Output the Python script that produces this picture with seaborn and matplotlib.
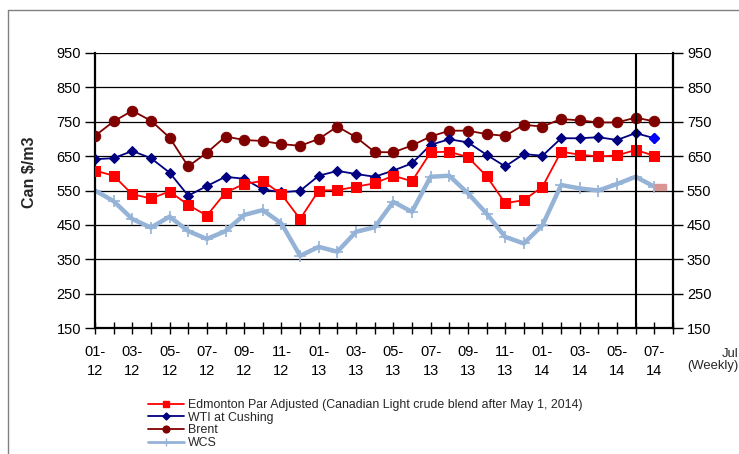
import pandas as pd
import matplotlib.pyplot as plt
import seaborn as sns
from matplotlib.lines import Line2D

# categorias (meses) e series
meses = ["01-12", "02-12", "03-12", "04-12", "05-12", "06-12", "07-12", "08-12",
         "09-12", "10-12", "11-12", "12-12", "01-13", "02-13", "03-13", "04-13",
         "05-13", "06-13", "07-13", "08-13", "09-13", "10-13", "11-13", "12-13",
         "01-14", "02-14", "03-14", "04-14", "05-14", "06-14", "07-14"]

edmonton = [608, 593, 539, 527, 547, 508, 477, 544, 569, 578, 539, 467, 550, 551,
            561, 571, 593, 577, 661, 663, 647, 592, 513, 522, 561, 663, 654, 649,
            652, 668, 651]
wti = [641, 644, 665, 644, 602, 535, 563, 590, 584, 553, 545, 549, 593, 607,
       598, 590, 608, 629, 683, 699, 690, 654, 620, 656, 651, 702, 702, 705,
       697, 717, 702]
brent = [709, 751, 782, 753, 704, 620, 660, 707, 697, 694, 685, 680, 700, 736,
         705, 662, 661, 681, 707, 724, 724, 714, 709, 741, 736, 758, 754, 748,
         748, 762, 751]
wcs = [550, 519, 467, 442, 474, 432, 409, 432, 479, 493, 454, 360, 386, 372,
       430, 443, 517, 488, 590, 593, 542, 483, 415, 396, 449, 566, 556, 550,
       569, 590, 561]

nomes = ["Edmonton Par Adjusted (Canadian Light crude blend after May 1, 2014)",
         "WTI at Cushing", "Brent", "WCS"]
inicio_semanal = "06-14"

df = pd.DataFrame({"mes": meses, "edmonton": edmonton, "wti": wti,
                   "brent": brent, "wcs": wcs})
df["pos"] = range(len(df))

sns.set_style("white")
plt.rcParams["font.family"] = ["Liberation Sans", "DejaVu Sans"]

fig, ax = plt.subplots(figsize=(7.39, 4.54), dpi=100)
fig.subplots_adjust(left=95/739, right=673/739, top=1-53/454, bottom=1-328/454)

# estilos das series
estilos = {
    "edmonton": dict(color="#FF0000", marker="s", markersize=7.5, linewidth=1.3, zorder=5),
    "wti": dict(color="#000080", marker="D", markersize=5.5, linewidth=1.3, zorder=4),
    "brent": dict(color="#800000", marker="o", markersize=7.5, linewidth=1.3, zorder=3),
    "wcs": dict(color="#95B3D7", marker="+", markersize=9, markeredgewidth=1.2,
                linewidth=3.2, zorder=2),
}

for col in ["wcs", "brent", "wti", "edmonton"]:
    sns.lineplot(data=df, x="pos", y=col, ax=ax, markeredgecolor=estilos[col]["color"],
                 **estilos[col])

# ultimo ponto (semanal) com cores diferentes
ult = df.iloc[-1:]
ax.plot(ult["pos"], ult["wti"], marker="D", color="#0000FF", markersize=5.5,
        linestyle="none", zorder=6)
ax.plot(ult["pos"], ult["wcs"], marker=[(0, -0.25), (1, -0.25), (1, 0.25), (0, 0.25)],
        color="#D99594", markersize=17, linestyle="none", zorder=6)

ax.axvline(meses.index(inicio_semanal), color="black", linewidth=1.5, zorder=7)

ax.set_xlim(0, len(meses))
ax.set_ylim(150, 950)
ax.set_yticks(range(150, 951, 100))
ax.yaxis.grid(True, color="black", linewidth=0.9)
ax.set_axisbelow(True)

ticks = list(range(len(meses) + 1))
rotulos = [m.replace("-", "-\n") if i % 2 == 0 else "" for i, m in enumerate(meses)] + [""]
ax.set_xticks(ticks)
ax.set_xticklabels(rotulos, linespacing=1.4)
ax.tick_params(axis="x", direction="inout", length=9, width=1, pad=8, labelsize=10.5,
               colors="black", bottom=True)
ax.tick_params(axis="y", direction="out", length=7, width=1, pad=3, labelsize=10.5,
               left=True, right=True, labelright=True, colors="black")

for lado in ["left", "right", "bottom"]:
    ax.spines[lado].set_color("black")
    ax.spines[lado].set_linewidth(1.6)
ax.spines["top"].set_visible(False)

ax.set_xlabel("")
ax.set_ylabel("")
fig.text(30/739, 1-172/454, "Can $/m3", rotation=90, ha="center", va="center",
         fontsize=11.5, fontweight="bold")
fig.text(738/739, 1-360/454, "Jul\n(Weekly)", ha="right", va="center", fontsize=9.4,
         multialignment="right", linespacing=1.0)

# legenda
handles = [Line2D([], [], color=estilos[c]["color"], marker=estilos[c]["marker"],
                  markersize=estilos[c]["markersize"] * 0.65,
                  linewidth=2 if c == "wcs" else 1.3,
                  markeredgewidth=1)
           for c in ["edmonton", "wti", "brent", "wcs"]]
fig.legend(handles, nomes, loc="upper left", bbox_to_anchor=(148/739, 1-399/454),
           frameon=False, fontsize=8.9, handlelength=2.9, handletextpad=0.35,
           labelspacing=0.05, borderpad=0, borderaxespad=0)

# moldura cinza
fig.add_artist(Line2D([8/739, 1], [1-10/454, 1-10/454], transform=fig.transFigure,
                      color="#808080", linewidth=1))
fig.add_artist(Line2D([8/739, 8/739], [0, 1-10/454], transform=fig.transFigure,
                      color="#808080", linewidth=1))

fig.savefig("out.png", dpi=100)
